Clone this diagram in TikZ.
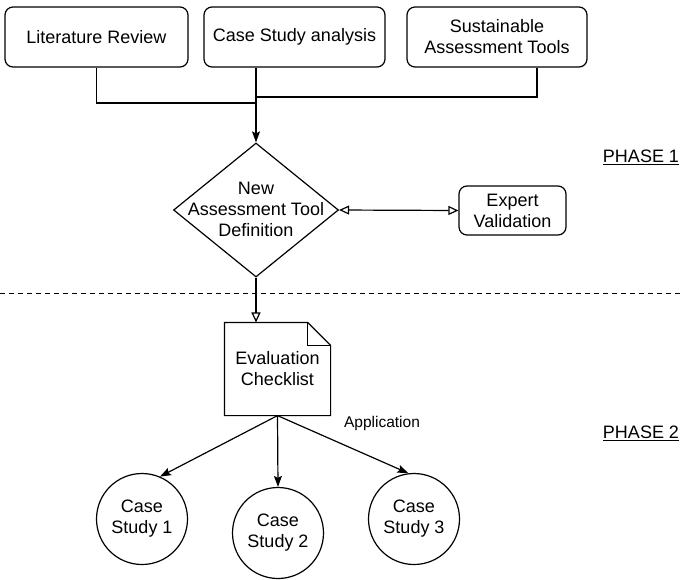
\documentclass[tikz,border=0pt]{standalone}
\usepackage{fontspec}
\setmainfont{Liberation Sans}
\usetikzlibrary{shapes.geometric,arrows.meta,calc}
\begin{document}
\begin{tikzpicture}[x=1pt,y=-1pt,line width=1.2pt,
  txt/.style={font=\fontsize{18}{21}\selectfont,align=center,inner sep=0},
  rbox/.style={draw,rounded corners=8pt,txt},
  fill arrow/.style={-{Stealth[length=11pt,width=8pt,inset=2pt]}},
  open arrow/.style={-{Triangle[open,length=10pt,width=9pt]}},
  cs/.style={draw,circle,txt,minimum size=91pt}]
\useasboundingbox (0,0) rectangle (682,579);
% top boxes
\node[rbox,minimum width=183pt,minimum height=60pt] (lit) at (96.5,37) {Literature Review};
\node[rbox,minimum width=181pt,minimum height=60pt] (cas) at (294.5,37) {Case Study analysis};
\node[rbox,minimum width=180pt,minimum height=60pt] (sat) at (497,37) {Sustainable\\Assessment Tools};
\coordinate (j1) at (257,103);
\coordinate (j3) at (257,97);
% diamond
\node[diamond,draw,minimum width=165pt,minimum height=134pt,inner sep=0] (dia) at (256,210) {};
\node[txt] (diat) at (256,209) {New\\Assessment Tool\\Definition};
\node[rbox,minimum width=107pt,minimum height=49pt] (exp) at (512.5,210.5) {Expert\\Validation};
\draw (lit.south) |- (j1);
\draw (sat.south -| 537,0) |- (j3);
\draw[fill arrow] (cas.south -| dia.north) -- (dia.north);
\draw[{Triangle[open,length=10pt,width=9pt]}-{Triangle[open,length=10pt,width=9pt]}] (dia.east) -- (exp.west);
% dashed separator
\coordinate (dl) at (0,293);
\coordinate (dr) at (682,293);
\draw[line width=1pt,dash pattern=on 5pt off 4pt] (dl) -- (dr);
% document
\node[txt,minimum width=105pt,minimum height=92pt] (doc) at (277.5,369) {Evaluation\\Checklist};
\draw[line join=miter] (doc.north west) -- ([xshift=-23pt]doc.north east) -- ([yshift=-23pt]doc.north east) -- (doc.south east) -- (doc.south west) -- cycle;
\draw ([xshift=-23pt]doc.north east) |- ([yshift=-23pt]doc.north east);
\draw[open arrow] (dia.south) -- (dia.south |- doc.north);
% case studies
\node[cs] (c1) at (142,519) {Case\\Study 1};
\node[cs] (c2) at (278,533) {Case\\Study 2};
\node[cs] (c3) at (414,519) {Case\\Study 3};
\draw[fill arrow] (doc.south) -- (c1.67);
\draw[fill arrow] (doc.south) -- (c2.north);
\draw[fill arrow] (doc.south) -- (c3.97);
\node[txt,font=\fontsize{15.5}{18}\selectfont] (app) at (382,423) {Application};
% phases
\node[txt] (p1) at (641,157) {\underline{PHASE 1}};
\node[txt] (p2) at (641,433) {\underline{PHASE 2}};
\end{tikzpicture}
\end{document}
